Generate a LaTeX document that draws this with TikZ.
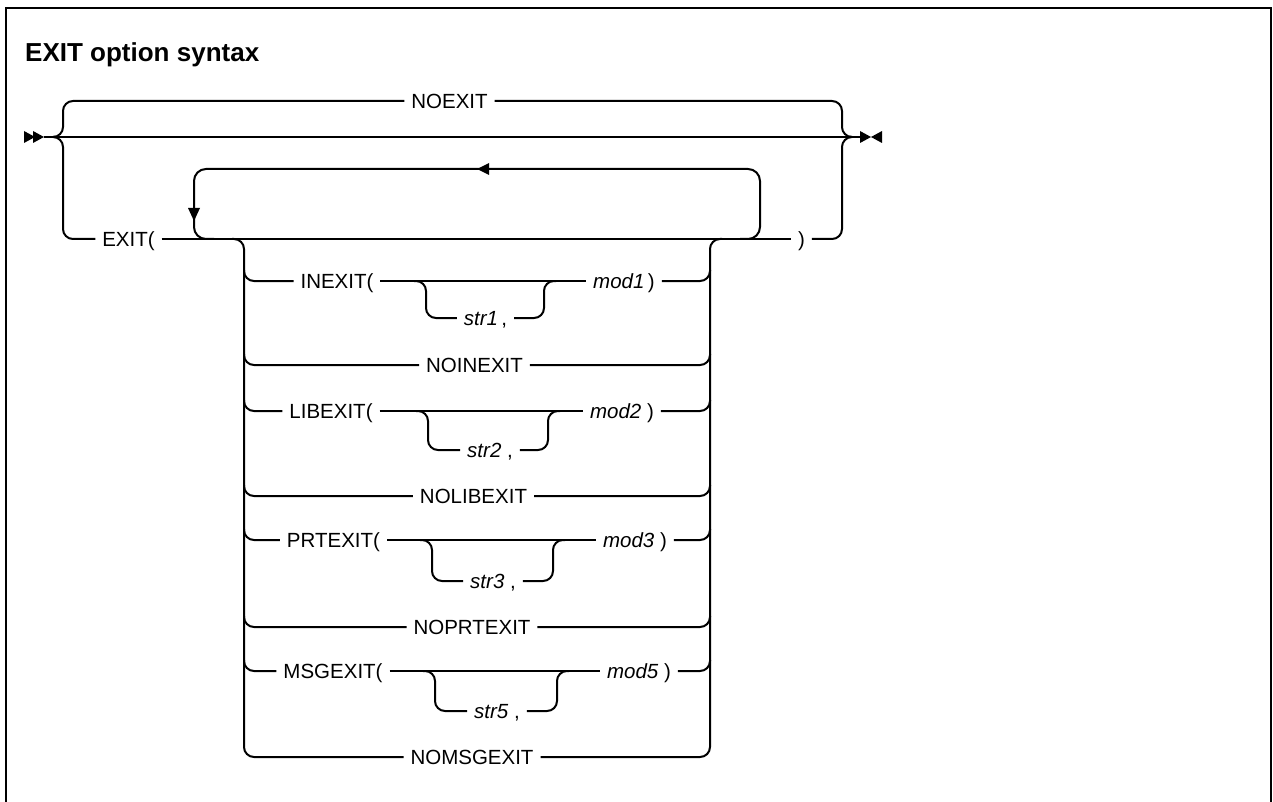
\documentclass[tikz,border=0pt]{standalone}
\usepackage{fontspec}
\setmainfont{Liberation Sans}
\begin{document}
\begin{tikzpicture}[x=1pt,y=-1pt]
\tikzset{
  ln/.style={line width=2pt, rounded corners=10pt},
  lbl/.style={inner xsep=7pt, inner ysep=0pt, outer sep=0pt, text height=14.5pt, text depth=0pt, font=\fontsize{20.5}{24}\selectfont},
  ttl/.style={inner sep=0pt, font=\fontsize{26}{30}\selectfont\bfseries},
  tip/.style={fill=black},
}
\useasboundingbox (0,0) rectangle (1273,802);
% frame
\draw[line width=2.5pt] (6,802) -- (6,8) -- (1271,8) -- (1271,802);
\node[ttl, anchor=base west] (title) at (25,62) {EXIT option syntax};

% main line
\coordinate (s) at (44,137);
\coordinate (e) at (860,137);
\coordinate (lb) at (55,137);
\coordinate (rb) at (850,137);
\fill[tip] (24,131) -- (35,137) -- (24,143) -- cycle;
\fill[tip] (33,131) -- (44,137) -- (33,143) -- cycle;
\fill[tip] (860,131) -- (871,137) -- (860,143) -- cycle;
\fill[tip] (882,131) -- (871,137) -- (882,143) -- cycle;

\node[lbl] (noexit) at (449.5,101) {NOEXIT};
\node[lbl] (exit) at (128.5,239) {EXIT(};
\node[lbl] (close) at (801.5,239) {)};

\draw[ln] (s) -- (e);
\draw[ln] (lb) -- (63,137) -- (63,101) -- (noexit.west);
\draw[ln] (lb) -- (63,137) -- (63,239) -- (exit.west);
\draw[ln] (noexit.east) -- (842,101) -- (842,137) -- (rb);
\draw[ln] (close.east) -- (842,239) -- (842,137) -- (rb);
\draw[ln] (exit.east) -- (close.west);

% repeat loop
\draw[ln, rounded corners=12pt] (740,239) -- (760,239) -- (760,169) -- (194,169) -- (194,239) -- (214,239);
\fill[tip] (477,169) -- (489,163) -- (489,175) -- cycle;
\fill[tip] (188,208) -- (200,208) -- (194,221) -- cycle;

% stack
\node[lbl] (nomsgexit) at (472,757) {NOMSGEXIT};
\draw[ln] (232,239) -- (244,239) -- (244,757) -- (nomsgexit.west);
\draw[ln] (nomsgexit.east) -- (710,757) -- (710,239) -- (722,239);

% INEXIT
\node[lbl] (inexit) at (337,281) {INEXIT(};
\node[lbl] (mod1) at (624,281) {\textit{mod1}\,)};
\node[lbl] (str1) at (485.5,318) {\textit{str1}\,,};
\draw[ln] (244,270) -- (244,281) -- (inexit.west);
\draw[ln] (inexit.east) -- (mod1.west);
\draw[ln] (mod1.east) -- (710,281) -- (710,270);
\draw[ln] (414,281) -- (426,281) -- (426,318) -- (str1.west);
\draw[ln] (str1.east) -- (544,318) -- (544,281) -- (556,281);

% NOINEXIT
\node[lbl] (noinexit) at (474.5,365) {NOINEXIT};
\draw[ln] (244,354) -- (244,365) -- (noinexit.west);
\draw[ln] (noinexit.east) -- (710,365) -- (710,354);

% LIBEXIT
\node[lbl] (libexit) at (331,411) {LIBEXIT(};
\node[lbl] (mod2) at (622,411) {\textit{mod2}\;)};
\node[lbl] (str2) at (490,450) {\textit{str2}\;,};
\draw[ln] (244,400) -- (244,411) -- (libexit.west);
\draw[ln] (libexit.east) -- (mod2.west);
\draw[ln] (mod2.east) -- (710,411) -- (710,400);
\draw[ln] (416,411) -- (428,411) -- (428,450) -- (str2.west);
\draw[ln] (str2.east) -- (548,450) -- (548,411) -- (560,411);

% NOLIBEXIT
\node[lbl] (nolibexit) at (473.5,496) {NOLIBEXIT};
\draw[ln] (244,485) -- (244,496) -- (nolibexit.west);
\draw[ln] (nolibexit.east) -- (710,496) -- (710,485);

% PRTEXIT
\node[lbl] (prtexit) at (333.5,540) {PRTEXIT(};
\node[lbl] (mod3) at (635,540) {\textit{mod3}\;)};
\node[lbl] (str3) at (493,581) {\textit{str3}\;,};
\draw[ln] (244,529) -- (244,540) -- (prtexit.west);
\draw[ln] (prtexit.east) -- (mod3.west);
\draw[ln] (mod3.east) -- (710,540) -- (710,529);
\draw[ln] (420,540) -- (432,540) -- (432,581) -- (str3.west);
\draw[ln] (str3.east) -- (553,581) -- (553,540) -- (565,540);

% NOPRTEXIT
\node[lbl] (noprtexit) at (472,627) {NOPRTEXIT};
\draw[ln] (244,616) -- (244,627) -- (noprtexit.west);
\draw[ln] (noprtexit.east) -- (710,627) -- (710,616);

% MSGEXIT
\node[lbl] (msgexit) at (333,671) {MSGEXIT(};
\node[lbl] (mod5) at (639,671) {\textit{mod5}\;)};
\node[lbl] (str5) at (497,711) {\textit{str5}\;,};
\draw[ln] (244,660) -- (244,671) -- (msgexit.west);
\draw[ln] (msgexit.east) -- (mod5.west);
\draw[ln] (mod5.east) -- (710,671) -- (710,660);
\draw[ln] (423,671) -- (435,671) -- (435,711) -- (str5.west);
\draw[ln] (str5.east) -- (557,711) -- (557,671) -- (569,671);
\end{tikzpicture}
\end{document}
